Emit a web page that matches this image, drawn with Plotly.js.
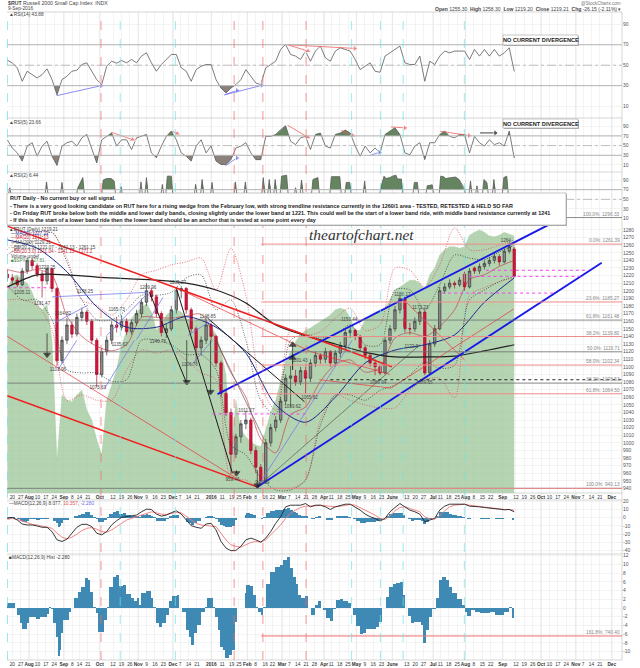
<!DOCTYPE html>
<html><head><meta charset="utf-8">
<script src="https://cdn.plot.ly/plotly-3.0.1.min.js"></script>
<style>html,body{margin:0;padding:0;background:#fff}</style></head>
<body><div id="chart" style="width:640px;height:668px"></div>
<script>
const tickDates=['2015-07-20','2015-07-27','2015-08-03','2015-08-10','2015-08-17','2015-08-24','2015-09-01','2015-09-08','2015-09-14','2015-09-21','2015-10-01','2015-10-12','2015-10-19','2015-10-26','2015-11-02','2015-11-09','2015-11-16','2015-11-23','2015-12-01','2015-12-07','2015-12-14','2015-12-21','2016-01-02','2016-01-11','2016-01-19','2016-01-25','2016-02-01','2016-02-08','2016-02-16','2016-02-22','2016-03-01','2016-03-07','2016-03-14','2016-03-21','2016-03-28','2016-04-05','2016-04-11','2016-04-18','2016-04-25','2016-05-02','2016-05-09','2016-05-16','2016-05-23','2016-06-01','2016-06-13','2016-06-20','2016-06-27','2016-07-05','2016-07-11','2016-07-18','2016-07-25','2016-08-01','2016-08-08','2016-08-15','2016-08-22','2016-09-01','2016-09-12','2016-09-19','2016-09-26','2016-10-03','2016-10-10','2016-10-17','2016-10-24','2016-11-01','2016-11-07','2016-11-14','2016-11-21','2016-12-01'];
const tickLabels=['20','27','Aug','10','17','24','Sep','8','14','21','Oct','12','19','26','Nov','9','16','23','Dec','7','14','21','2016','11','19','25','Feb','8','16','22','Mar','7','14','21','28','Apr','11','18','25','May','9','16','23','June','13','20','27','Jul','11','18','25','Aug','8','15','22','Sep','12','19','26','Oct','10','17','24','Nov','7','14','21','Dec'];

const rsi14=[54.9,52.3,47.4,34.3,44.1,40.8,37.5,40.8,46.4,35.9,21.1,35.9,39.2,44.1,45.1,50.7,52.3,44.1,35.9,31,49,53.9,52,54.6,52.3,55.6,52.3,58.9,62.1,52.3,44.1,50.7,55.6,60.5,60.5,47.4,44.1,34.3,45.7,49,50.7,50.7,35.9,27.7,22.8,27.7,31,35.9,45.7,39.2,32.6,31,47.4,50.7,53.9,65.4,70.3,60.5,58.9,55.6,63.8,53.9,63.8,68.7,57.2,53.9,63.8,67,65.4,63.8,55.6,45.7,49,52.3,44.1,43.1,58.9,62.1,65.4,68.7,52.3,50.7,50.7,58.9,34.3,53.9,50.7,58.9,63.8,62.1,63.8,63.8,63.8,55.6,65.4,58.9,65.4,58.9,65.4,58.9,62.1,67,43.9];
const rsi5=[62,45,35,18,49,56,28,49,59,28,9,49,56,59,49,66,73,42,14,62,69,76,49,62,62,42,66,69,73,35,25,49,69,80,62,35,28,18,49,62,35,49,18,11,11,21,45,49,56,35,21,21,69,69,73,83,91,59,52,66,69,42,73,76,49,45,73,76,82,76,49,28,49,35,45,35,73,80,87,73,35,31,49,56,21,56,56,73,80,69,66,73,73,35,69,56,49,62,52,56,49,80,24];
const rsi2PeakIdx=[0.5,7.9,11,14.2,15.2,19.3,20,20.9,21.5,22.9,26.9,28,31.2,32.2,33,37.9,39.2,41.2,45.9,47.9,51.5,52.7,53.9,55.2,56.2,58,59.2,61.5,62.5,65.2,65.8,66.4,66.9,68.2,68.9,71.9,75.2,75.8,76.2,77,77.5,78.2,78.5,79.3,81.9,82.5,84.5,85.5,87.2,87.8,88.2,89.2,90.2,90.9,91.9,93.2,94.5,95.9,96.5,97.9,99.9,100.5];
const rsi2PeakVal=[74,86,85,74,95,90,93,93,88,76,86,95,81,98,98,81,91,85,86,86,95,91,91,98,100,74,90,91,95,97,97,98,97,85,85,88,76,98,93,95,98,100,92,92,85,85,78,80,98,97,93,95,96,91,74,88,78,91,85,91,95,98];

const macdLine=[-0.8,0.4,-2.8,-7.6,-8.8,-8.8,-10,-11.6,-11.6,-16.8,-26.8,-28.8,-26,-18.8,-11.6,-8,-8,-10.8,-18.8,-20.8,-16.8,-8.8,-3.6,0.4,1.2,2,3.2,7.2,10.4,10,4.4,2,3.2,6,8.4,4.4,-2.8,-9.6,-11.6,-12.8,-7.6,-6.8,-14.8,-28.8,-36.8,-40,-39.6,-34.8,-26.8,-24.8,-26.8,-29.6,-24.8,-16.8,-6.8,1.2,13.2,15.2,15.2,15.2,17.2,13.2,15.2,15.2,13.2,10,13.2,15.2,16.4,16.4,13.2,9.2,4.4,1.2,-0.8,-4,-0.8,7.2,12.4,17.2,13.2,9.2,7.2,4.4,-4.8,-2.8,-0.8,9.2,14,16.4,16.4,17.2,16.4,14,14,13.2,12.4,12,11.2,10.4,9.6,10,7.2];
const macdSignal=[-2,-0.8,-2,-4,-6.8,-8,-8.8,-10,-10.8,-12.8,-18.8,-23.6,-25.6,-23.6,-20,-15.6,-12.8,-12,-14,-16.8,-17.6,-14.8,-10.8,-6.8,-2.8,-0.8,1.2,3.2,6,7.2,6,4.4,4,5.2,6.4,6,2,-2.8,-6.8,-8.8,-9.6,-9.6,-10.8,-18.8,-26.8,-32.8,-34.8,-35.6,-32.8,-30,-28.8,-29.6,-26.8,-20.8,-14.8,-8.8,-0.8,5.2,9.2,12.4,14,14,14.4,15.2,14.4,13.2,13.2,14,15.2,16,15.2,12.4,9.2,6,3.2,-0.8,-2,2.4,8.4,12.4,13.2,11.2,9.2,7.2,1.2,-1.6,-1.6,2.4,8.4,13.2,15.2,16,16.4,15.2,14.4,14,13.2,12.4,12,11.2,10,10,9.2];
const histSession=[0,3.6,4.6,5.6,7.6,8.6,10.6,11.6,13.2,15.6,17.6,19.6,22.6,24,25.2,26.6,27.6,29.2,30.6,31.6,32.6,33.6,35.6,37,38.6,40,42.6,44.6,46.6,48.6,50,51.6,53.6,55,56.6,58.6,60,61.6,63.6,65.6,67.2,69.6,71.6,74.6,76.6,78,79.6,81,83.6,85,86.6,88,89.6,91.6,93.6,95.6,97.6,99.6,102.6,103.6,105.2,107.6,109.6,111,112.6,114.6,117,119.2,120.6,122.6,124,125.6,127.2,128.6,130,131.6,133.6,135.6,137.2,138.6,141.6,143.2,144,146.6,148.6,150,151.6,153,154.6,156,158.6,161.6,164.6,166.6,169,170.6,172.6,174,175.6,177,179.6,181.6,183.6,185.6,187.6,189.2,190.6,192.6,194.6,196.6,198.6,200.6,202.6,205.6,207.6,208.6,210.6,212.6,214.6,216.6,219.6,222.6,224.6,226.2,228.6,230.6,232.6,234.6,237,238.6,240.2,241.6,243.6,245.6,247.6,249.6,251.2,252.6,254.6,256.6,258.6,260.6,262.6,264.6,266.6,268.6,271.6,274.6,276.2,277.6,279.6,282.6,285.6,288.6,291.6,294.6,297.6,299.6,302.6,304.6];
const histValue=[1.1,1.2,0,-1.6,-3.5,-4.7,-4.7,-3.5,-2,-2,-2.6,-2,-2,-1.4,0.2,-0.3,-3.5,-6.6,-10.9,-9.6,-5.8,-2.7,-2.7,-0.8,-0.1,2.2,3.7,4.9,6.8,6.4,3.7,0.3,-1.2,-5.4,-5.4,-2.7,0.3,4.9,7.2,7.6,5.1,5.3,3.2,2.4,1.5,2.4,0.7,3.4,4,3.9,2.2,0.3,-3.5,-4.4,-3.5,-1.6,1.5,2.8,3,0,-0.8,-5,-6.6,-8.5,-5.8,-3.9,-0.8,0.3,2.2,2.2,0.3,-2,-5,-8.9,-9.6,-11.5,-10.8,-9.6,-3.1,-0.1,-0.1,3.4,5.3,5.1,3,0.2,-0.8,-1.6,0.3,5.6,8.2,9.3,9.8,11.1,11.7,9.1,7.2,5.6,3,2.2,2.7,0,-1.6,0.7,1.5,-0.1,-0.5,-2.3,-2.9,-0.3,1.8,2,1.5,1.1,-0.1,-1.6,-4.2,-5.9,-5.8,-4.7,-4.7,-4.4,-3.1,-0.1,2.6,4.9,5.6,5.8,6,3,-0.1,-1.8,-3.5,-3.1,-3.1,-3.9,-8.1,-5,-2,-0.3,2.2,6.4,7,6.4,4.9,3.4,2,0.7,-0.8,-1.8,-0.5,-0.8,-1.1,-1.2,-0.8,-1.6,-1.6,-0.8,0.2,-2.3];

const priceOpen=[1222,1217,1214,1208,1226,1240,1233,1222,1213,1229,1203,1108,1135,1155,1143,1165,1172,1160,1135,1090,1120,1135,1155,1152,1160,1146,1158,1170,1185,1200,1192,1170,1145,1150,1175,1200,1203,1175,1150,1125,1135,1155,1140,1105,1065,1040,985,1008,1025,1030,990,968,950,1000,1020,1030,1055,1085,1088,1080,1095,1085,1105,1115,1110,1120,1105,1118,1128,1145,1148,1140,1125,1115,1105,1100,1092,1135,1150,1175,1190,1150,1150,1160,1172,1092,1130,1150,1200,1205,1210,1208,1222,1205,1230,1226,1232,1236,1240,1245,1238,1252,1255];
const priceHigh=[1228,1222,1218,1230,1244,1243,1236,1226,1231,1230,1205,1140,1164,1160,1170,1178,1175,1163,1138,1125,1140,1160,1165,1168,1164,1162,1175,1190,1210,1204,1195,1173,1156,1180,1205,1206,1205,1178,1153,1140,1166,1158,1142,1108,1070,1045,1012,1030,1042,1033,995,972,1005,1025,1035,1060,1090,1101,1096,1100,1100,1110,1120,1118,1125,1122,1122,1133,1150,1152,1150,1142,1128,1118,1110,1104,1140,1155,1180,1194,1192,1158,1165,1177,1175,1135,1155,1205,1210,1215,1213,1218,1225,1230,1232,1236,1240,1244,1250,1248,1256,1264,1258];
const priceLow=[1212,1208,1205,1206,1222,1228,1218,1191,1208,1198,1101,1104,1130,1138,1140,1160,1155,1130,1073,1086,1115,1130,1145,1148,1142,1142,1154,1165,1180,1186,1165,1140,1138,1147,1170,1190,1170,1145,1106,1115,1130,1135,1100,1060,1035,959,980,1000,1018,985,960,943,947,995,1015,1026,1050,1047,1075,1076,1065,1080,1100,1104,1105,1100,1100,1112,1122,1138,1135,1120,1110,1100,1089,1089,1090,1130,1146,1170,1145,1142,1146,1155,1089,1090,1126,1148,1196,1202,1203,1205,1200,1203,1222,1222,1228,1232,1236,1233,1236,1249,1219];
const priceClose=[1217,1214,1208,1226,1240,1233,1222,1213,1229,1203,1108,1135,1155,1143,1165,1172,1160,1135,1090,1120,1135,1155,1152,1160,1146,1158,1170,1185,1200,1192,1170,1145,1150,1175,1200,1203,1175,1150,1125,1135,1155,1140,1105,1065,1040,985,1008,1025,1030,990,968,950,1000,1020,1030,1055,1085,1088,1080,1095,1085,1105,1115,1110,1120,1105,1118,1128,1145,1148,1140,1125,1115,1105,1100,1092,1135,1150,1175,1190,1150,1150,1160,1172,1092,1130,1150,1200,1205,1210,1208,1214,1205,1226,1226,1232,1236,1240,1245,1238,1252,1258,1219];
const overlayArea=[1201,1218,1221,1214,1210,1198,1181,1175,1181,1135,977,1063,1056,1054,1063,1069,1043,1030,1004,984,1056,1076,1096,1129,1148,1164,1172,1177,1183,1172,1148,1155,1168,1172,1175,1172,1164,1159,1162,1164,1162,1154,1142,1122,1089,984,1056,1017,1008,1001,997,995,1017,1040,1056,1083,1106,1119,1133,1142,1148,1151,1155,1159,1164,1168,1175,1177,1175,1164,1148,1148,1162,1168,1172,1175,1177,1188,1201,1205,1210,1214,1214,1210,1201,1221,1230,1247,1254,1258,1258,1256,1258,1273,1277,1280,1277,1272,1271,1273,1277,1275,1272];
const ma200=[1205,1221,1221,1218,1216,1214,1210,1201,1184,1155,1141,1130,1119,1113,1113,1114,1121,1129];
const ma50=[1267,1256,1225,1179,1152,1152,1166,1152,1118,1050,1027,1060,1105,1122,1129,1142,1185,1217];
const bbUpper3=[1254,1273,1277,1276,1243,1188,1181,1168,1188,1221,1227,1234,1238,1243,1201,1256,1194,1076,1043,1148,1142,1146,1164,1177,1148,1155,1230,1227,1205,1234,1283,1254,1254,1260,1267];
const bbLower3=[1188,1188,1181,1148,1056,1063,1056,1056,1096,1122,1118,1122,1109,1092,1083,954,951,940,940,940,951,1030,1063,1056,1050,1046,1046,1069,1083,1085,1059,1194,1204,1212,1217];
const bbUpper2=[1247,1260,1267,1277,1238,1188,1162,1162,1175,1194,1194,1198,1217,1221,1175,1188,1135,1056,1037,1135,1142,1138,1142,1155,1129,1129,1201,1201,1175,1208,1247,1243,1241,1251,1260];
const bbLower2=[1208,1188,1188,1162,1096,1092,1092,1081,1083,1135,1135,1129,1116,1116,1096,997,984,954,938,938,951,1023,1063,1063,1056,1069,1076,1089,1106,1098,1102,1188,1201,1212,1219];
const bbMiddle=[1228,1224,1228,1220,1167,1140,1127,1121,1129,1165,1165,1164,1167,1169,1135,1092,1060,1005,987,1037,1047,1081,1103,1109,1093,1099,1138,1145,1140,1153,1175,1215,1221,1232,1240];

const priceLabelText=['1229.25','1205.11','1191.47','1164.82','1178.25','1165.73','1209.96','1205.27','1148.85','1103.96','1135.67','1073.63','1146.76','1106.76','1011.27','959.46','943.09','1101.43','1059.62','1065.62','1122.9','1089.94','1089.65','1150.44','1188.17','1173.23','1264'];
const priceLabelIdx=[8,3,7,11.2,15.6,22,28.3,34.3,40.3,10.2,22.6,18.2,30.3,36.7,48.1,45.3,51.3,58.8,57.4,60.8,81.3,74.6,83.9,68.8,79.5,83.1,100.3];
const priceLabelAt=[1230,1197,1183,1169,1198,1175,1204,1210,1166,1096,1129,1072,1133,1102,1042,951,948,1108,1047,1059,1126,1079,1079,1162,1194,1177,1266];

const fibRedLevels=[1261.39,1185.27,1139.80,1102.34,1064.50,940.13];
const fibGreyLevels=[1296.33,1161.48,1119.71,1078.53,940.13];
const fibLabelLevels=[1296.33,1261.39,1185.27,1161.48,1139.80,1119.71,1102.34,1078.53,1064.50,940.13];
const fibLabelText=['100.0%: 1296.33','0.0%: 1261.39','23.6%: 1185.27','61.8%: 1161.48','38.2%: 1139.80','50.0%: 1119.71','58.0%: 1102.34','38.2%: 1078.53','61.8%: 1064.50','100.0%: 940.13'];
const redVerticals=['2015-10-02','2016-01-21','2016-02-14','2016-03-21'];
const cyanVerticals=['2015-07-16','2015-10-18','2015-12-03','2016-04-28','2016-05-22','2016-06-10','2016-07-31'];

// trendlines drawn on the price panel: sample index and price at each vertex
const blueThick=[[[42.3,1064],[109,1287]],[[50.3,942],[119.6,1237]]];
const redThick=[[[0,1285],[77.4,1100]],[[0,1062],[50.3,942]]];
const redMedium=[[[0,1140],[45.7,955]],[[62.8,1083],[77.2,1072],[101.9,1176]],[[34,1204],[61,1120],[77,1090]],[[80.3,1185],[92,1109]]];
const blackLines=[[[34,1204],[45.3,960]],[[28.6,1198],[36,1080]],[[40.3,1164],[59.8,1054]]];
const blackThin=[[[50.3,942],[83,1129]],[[42,1135],[51.7,1004]]];
const blueThin=[[[9,1192],[28.3,1198]],[[9.6,1158],[16.2,1181]],[[19.6,1072],[25.6,1135]],[[20,1141],[28.3,1197]],[[26,1136],[31.3,1191]],[[36.3,1141],[41.3,1162]],[[10.2,1096],[14,1135]],[[37,1102],[41.3,1135]],[[50.3,942],[69.4,1135]]];
const magentaLevels=[[0,8.6,1204],[41.3,60.2,1038],[96.3,117,1227],[93,115.6,1219],[87.5,110.3,1197]];
const arrowsDown=[[8,1144,1116],[36.1,1135,1080],[40.9,1135,1067],[46.1,964,960],[50.3,964,944]];
const arrowsUp=[[57.4,1096,1129],[57.4,1096,1112]];
const divergence14=[['#6f6ff0',[9.9,20.2],[18.9,30],'triangle-right'],['#6f6ff0',[43.7,21],[46.2,25.4],'triangle-right'],['#6f6ff0',[43.7,21],[51.2,30.3],'triangle-right'],['#f06060',[56.4,70],[60.5,63.8],'triangle-up'],['#f06060',[56.4,70],[69.9,66.4],'triangle-right']];
const divergence5=[['#f06060',[20.9,77.6],[25.2,62.4],'triangle-up'],['#f06060',[33.2,79.7],[34.2,74.8],'triangle-up'],['#6f6ff0',[43.9,8.6],[46.2,24.5],'triangle-right'],['#f06060',[56.4,92],[60.5,67],'triangle-up'],['#f06060',[67.2,81.7],[69.5,70.7],'triangle-up'],['#6f6ff0',[72.9,29.3],[74.9,36.2],'triangle-right'],['#f06060',[77.2,88.6],[80,86.6],'triangle-right'],['#f06060',[87.1,79.7],[92.9,70.7],'triangle-right'],['#111111',[95.1,76.2],[98.2,76.2],'triangle-right']];

const DAY=864e5,STEP=4.145;
const kMs=k=>Date.UTC(2015,6,15,20)+k*STEP*DAY;
const kDate=k=>new Date(kMs(k)).toISOString().slice(0,19);
const idx=a=>a.map((_,i)=>i);
const dates=(a,step)=>a.map((_,i)=>kDate(i*step));
const W=640,H=668,PL=7,PR=622;
const panels=[[12,118],[118,172],[172,222],[214,493],[500,554],[554,660]];
const dom=p=>[1-p[1]/H,1-p[0]/H];
const xRange=['2015-07-15 14:00','2016-12-09 12:00'];
const traces=[];
const add=(t,n)=>{t.xaxis='x'+(n===1?'':n);t.yaxis='y'+(n===1?'':n);t.showlegend=false;t.hoverinfo='skip';traces.push(t);};

function shade(xk,vals,lvl,sign,color,n){
  const xs=[],ys=[];
  vals.forEach((v,i)=>{
    if(i>0){const p=vals[i-1];if((p-lvl)*(v-lvl)<0){xs.push(xk[i-1]+(xk[i]-xk[i-1])*(lvl-p)/(v-p));ys.push(lvl);}}
    xs.push(xk[i]);ys.push(sign*(v-lvl)>0?v:lvl);
  });
  const d=xs.map(kDate);
  add({type:'scatter',mode:'lines',x:d,y:d.map(()=>lvl),line:{width:0,color:color}},n);
  add({type:'scatter',mode:'lines',x:d,y:ys,fill:'tonexty',fillcolor:color,line:{width:0,color:color}},n);
}
function rsiLine(xk,v,n){add({type:'scatter',mode:'lines',x:xk.map(kDate),y:v,line:{color:'#5a5a5a',width:0.8}},n);}
function diverge(list,n){list.forEach(d=>{
  add({type:'scatter',mode:'lines+markers',x:[kDate(d[1][0]),kDate(d[2][0])],y:[d[1][1],d[2][1]],line:{color:d[0],width:0.8},marker:{symbol:['circle',d[3]],size:[0,6],color:d[0]}},n);
});}

shade(idx(rsi14),rsi14,30,-1,'#8c807a',1);shade(idx(rsi14),rsi14,70,1,'#64855f',1);rsiLine(idx(rsi14),rsi14,1);diverge(divergence14,1);
shade(idx(rsi5),rsi5,30,-1,'#8c807a',2);shade(idx(rsi5),rsi5,70,1,'#64855f',2);rsiLine(idx(rsi5),rsi5,2);diverge(divergence5,2);
const r2x=[],r2y=[];
rsi2PeakIdx.forEach((k,i)=>{const prev=rsi2PeakIdx[i-1];
  if(i===0||k-prev>1){if(i>0){r2x.push(prev+0.35);r2y.push(55);}r2x.push(k-0.35);r2y.push(55);}
  r2x.push(k);r2y.push(rsi2PeakVal[i]);});
r2x.push(rsi2PeakIdx[rsi2PeakIdx.length-1]+0.35);r2y.push(55);r2x.push(102);r2y.push(6.44);
shade(r2x,r2y,70,1,'#64855f',3);rsiLine(r2x,r2y,3);

add({type:'scatter',mode:'lines',x:dates(overlayArea,1),y:overlayArea,fill:'tozeroy',fillcolor:'rgba(150,195,145,0.7)',line:{width:0.4,color:'rgba(150,195,145,0.7)'}},7);
add({type:'candlestick',x:dates(priceOpen,1),open:priceOpen,high:priceHigh,low:priceLow,close:priceClose,whiskerwidth:0,
  increasing:{line:{color:'#3a3a3a',width:0.7},fillcolor:'#8a8a8a'},decreasing:{line:{color:'#a8122e',width:0.7},fillcolor:'#d4143c'}},4);
const smooth=(a,step,color,width,dash)=>add({type:'scatter',mode:'lines',x:dates(a,step),y:a,line:{color,width,dash:dash||'solid',shape:'spline',smoothing:0.8}},4);
smooth(bbUpper3,3,'#e23b4c',0.7,'1px,1.5px');smooth(bbLower3,3,'#e23b4c',0.7,'1px,1.5px');
smooth(bbUpper2,3,'#222222',0.7,'1px,1.5px');smooth(bbLower2,3,'#222222',0.7,'1px,1.5px');
smooth(bbMiddle,3,'#c22a3a',0.6);
smooth(ma50,6,'#1a2a8c',1);smooth(ma200,6,'#222222',1.2);
const poly=(v,color,width)=>add({type:'scatter',mode:'lines',x:v.map(p=>kDate(p[0])),y:v.map(p=>p[1]),line:{color,width}},4);
blueThin.forEach(v=>poly(v,'#7a7af0',0.8));
blackThin.forEach(v=>poly(v,'#444444',0.6));
redMedium.forEach(v=>poly(v,'#e8303a',0.7));
blackLines.forEach(v=>poly(v,'#1a1a1a',1));
redThick.forEach(v=>poly(v,'#f02020',1.5));
blueThick.forEach(v=>poly(v,'#1818e8',1.8));
magentaLevels.forEach(m=>add({type:'scatter',mode:'lines',x:[kDate(m[0]),kDate(m[1])],y:[m[2],m[2]],line:{color:'#f040f0',width:1,dash:'dot'}},4));
arrowsDown.forEach(a=>add({type:'scatter',mode:'lines+markers',x:[kDate(a[0]),kDate(a[0])],y:[a[1],a[2]],line:{color:'#222',width:0.7},marker:{symbol:['circle','triangle-down'],size:[0,6],color:'#111'}},4));
arrowsUp.forEach(a=>add({type:'scatter',mode:'lines+markers',x:[kDate(a[0]),kDate(a[0])],y:[a[1],a[2]],line:{color:'#222',width:0.7},marker:{symbol:['circle','triangle-up'],size:[0,6],color:'#111'}},4));
add({type:'scatter',mode:'text',x:priceLabelIdx.map(kDate),y:priceLabelAt,text:priceLabelText,textfont:{size:4.6,color:'#444',family:'Liberation Sans'},textposition:'middle center'},4);

// histogram bars span from one read position to the next
const histK=histSession.map(s=>s/3);
const histEdges=histK.map((k,i)=>i+1<histK.length?histK[i+1]:k+0.34);
const histX=histK.map((k,i)=>kDate((k+histEdges[i])/2));
const histW=histK.map((k,i)=>(histEdges[i]-k)*STEP*DAY);
add({type:'bar',x:histX,y:histValue,width:histW,marker:{color:'#3f8ab5',line:{width:0}}},5);
add({type:'scatter',mode:'lines',x:dates(macdSignal,1),y:macdSignal,line:{color:'#f07878',width:0.9}},5);
add({type:'scatter',mode:'lines',x:dates(macdLine,1),y:macdLine,line:{color:'#222',width:0.9}},5);
add({type:'bar',x:histX,y:histValue,width:histW,marker:{color:'#3f8ab5',line:{width:0}}},6);

const font={family:'Liberation Sans, Arial, sans-serif',size:5,color:'#555'};
const grid='#ececec';
const showX=[false,false,false,true,false,true];
const layout={width:W,height:H,margin:{l:0,r:0,t:0,b:0,autoexpand:false},paper_bgcolor:'#fff',plot_bgcolor:'#fff',showlegend:false,bargap:0,font,hovermode:false};
const isMonth=l=>/^[A-Z]/.test(l)||l==='2016';
panels.forEach((p,i)=>{
  const n=i+1,s=n===1?'':n;
  layout['xaxis'+s]={domain:[PL/W,PR/W],range:xRange,type:'date',anchor:'y'+s,tickmode:'array',tickvals:tickDates,
    ticktext:tickLabels.map(l=>isMonth(l)?'<b>'+l+'</b>':l),showticklabels:showX[i],ticks:'',tickangle:0,tickfont:{size:4.8,color:'#333',family:font.family},
    showgrid:true,gridcolor:grid,gridwidth:0.6,zeroline:false,showline:false};
});
const yBase=(i,range,vals)=>({domain:dom(panels[i]),range,side:'right',anchor:'x'+(i===0?'':i+1),tickmode:'array',tickvals:vals,ticktext:vals.map(String),ticks:'',tickfont:{size:5,color:'#555',family:font.family},showgrid:true,gridcolor:grid,gridwidth:0.6,zeroline:false,showline:false});
const rsiTicks=[90,70,50,30,10];
layout.yaxis=yBase(0,[-1.6,102],rsiTicks);
layout.yaxis2=yBase(1,[-4.5,107],rsiTicks);
layout.yaxis3=yBase(2,[3,106.6],rsiTicks);
const priceTicks=[];for(let v=940;v<=1280;v+=10)priceTicks.push(v);
layout.yaxis7=Object.assign(yBase(3,[934,1301],priceTicks),{anchor:'x4'});
layout.yaxis4=Object.assign(yBase(3,[934,1301],priceTicks),{overlaying:'y7',showticklabels:false,showgrid:false});
layout.xaxis7={domain:[PL/W,PR/W],range:xRange,type:'date',visible:false};
traces.forEach(t=>{if(t.yaxis==='y7')t.xaxis='x4';});
layout.yaxis5=yBase(4,[-44,21.5],[20,10,0,-10,-20,-30,-40]);
layout.yaxis6=yBase(5,[-11.9,12.36],[12,10,8,6,4,2,0,-2,-4,-6,-8,-10]);
layout.xaxis4.rangeslider={visible:false};

const rangeEnd=xRange[1];
const shapes=[];
const py=y=>1-y/H;
const hline=(yref,v,x0,color,width,dash,layer)=>shapes.push({type:'line',xref:'x4',yref,x0,x1:rangeEnd,y0:v,y1:v,line:{color,width,dash:dash||'solid'},layer:layer||'above'});
tickDates.forEach((d,i)=>{if(isMonth(tickLabels[i])){
  shapes.push({type:'line',xref:'x4',yref:'paper',x0:d,x1:d,y0:py(660),y1:py(12),line:{color:'#d6d6d6',width:0.7},layer:'below'});}});
[['y',70],['y',30],['y2',70],['y2',30],['y3',70]].forEach(g=>shapes.push({type:'line',xref:'paper',yref:g[0],x0:PL/W,x1:PR/W,y0:g[1],y1:g[1],line:{color:'#b4b4b4',width:1},layer:'above'}));
[['y',50],['y2',50],['y3',50]].forEach(g=>shapes.push({type:'line',xref:'paper',yref:g[0],x0:PL/W,x1:PR/W,y0:g[1],y1:g[1],line:{color:'#999',width:0.6,dash:'dashdot'},layer:'above'}));
[12,118,172,493,500,554,660].forEach(y=>shapes.push({type:'line',xref:'paper',yref:'paper',x0:PL/W,x1:PR/W,y0:py(y),y1:py(y),line:{color:'#c4c4c4',width:0.7},layer:'above'}));
shapes.push({type:'line',xref:'paper',yref:'paper',x0:PR/W,x1:PR/W,y0:py(660),y1:py(12),line:{color:'#c4c4c4',width:0.7},layer:'above'});
fibGreyLevels.forEach(v=>hline('y4',v,xRange[0],'#6e6e6e',0.8));
fibRedLevels.forEach(v=>hline('y4',v,kDate(51.1),'#f08a8a',1));
shapes.push({type:'line',xref:'x4',yref:'y6',x0:kDate(51.1),x1:rangeEnd,y0:-6.4,y1:-6.4,line:{color:'#f07070',width:1},layer:'above'});
shapes.push({type:'line',xref:'x4',yref:'y4',x0:kDate(65),x1:rangeEnd,y0:1083,y1:1083,line:{color:'#111',width:0.9,dash:'dot'},layer:'above'});
redVerticals.forEach(d=>shapes.push({type:'line',xref:'x4',yref:'paper',x0:d,x1:d,y0:py(660),y1:py(12),line:{color:'#f06a6a',width:0.7,dash:'dash'},layer:'above'}));
cyanVerticals.forEach(d=>shapes.push({type:'line',xref:'x4',yref:'paper',x0:d,x1:d,y0:py(660),y1:py(12),line:{color:'#6ce4e4',width:0.7,dash:'dash'},layer:'above'}));
const box=(x0,y0,x1,y1)=>{
  shapes.push({type:'rect',xref:'paper',yref:'paper',x0:(x0+1)/W,x1:(x1+1)/W,y0:py(y1+1),y1:py(y0+1),line:{width:0},fillcolor:'#b0b0b0',layer:'above'});
  shapes.push({type:'rect',xref:'paper',yref:'paper',x0:x0/W,x1:x1/W,y0:py(y1),y1:py(y0),line:{color:'#a0a0a0',width:0.6},fillcolor:'#fff',layer:'above'});};
box(7,193,566,225);box(503,35,578,45);box(503,119,578,128);
layout.shapes=shapes;

const anns=[];
const note=(text,x,y,o={})=>anns.push({xref:'paper',yref:'paper',x:x/W,y:py(y),text,showarrow:false,xanchor:o.anchor||'left',yanchor:'middle',borderpad:0,
  font:{family:o.family||'Liberation Sans, Arial, sans-serif',size:o.size||5,color:o.color||'#444'},align:'left'});
note('<b>$RUT</b> Russell 2000 Small Cap Index  INDX',7,3.5,{size:5.2});
note('9-Sep-2016',7,9,{size:4.8});
note('@StockCharts.com',622,3.5,{anchor:'right',size:4.6,color:'#777'});
note('<b>Open</b> 1255.30  <b>High</b> 1258.30  <b>Low</b> 1219.20  <b>Close</b> 1219.21  <b>Chg</b> -26.15 (-2.11%) ▾',622,9,{anchor:'right',size:5});
note('▲RSI(14) 43.88',8,14.5,{size:4.8});
note('▲RSI(5) 23.66',8,122,{size:4.8});
note('▲RSI(2) 6.44',8,175,{size:4.8});
note('<b>NO CURRENT DIVERGENCE</b>',540.5,40,{anchor:'center',size:5.6,color:'#222'});
note('<b>NO CURRENT DIVERGENCE</b>',540.5,123.5,{anchor:'center',size:5.6,color:'#222'});
const tb={size:5.45,color:'#222'};
note('<b>RUT Daily - No current buy or sell signal.</b>',9,198,tb);
note('<b>- There is a very good looking candidate on RUT here for a rising wedge from the February low, with strong trendline resistance currently in the 1260/1 area - TESTED, RETESTED &amp; HELD SO FAR</b>',9,205.5,tb);
note('<b>- On Friday RUT broke below both the middle and lower daily bands, closing slightly under the lower band at 1221. This could well be the start of a lower band ride, with middle band resistance currently at 1241</b>',9,213,tb);
note('<b>- If this is the start of a lower band ride then the lower band should be an anchor that is tested at some point every day</b>',9,220,tb);
note('<i>theartofchart.net</i>',308,234,{family:'Liberation Serif, serif',size:15.5,color:'#333'});
note('▲$RUT (Daily) 1219.21',8,229,{size:4.6});
note('<span style="color:#1a2a8c">—MA(50) 1227.22</span>',10,233.5,{size:4.6});
note('<span style="color:#c22a3a">—MA(20) 1241.13</span>',10,238,{size:4.6});
note('—MA(200) 1129.31',10,242.5,{size:4.6});
note('--BB(20,2.0) 1221.07 - 1241.13 - 1261.15',10,247,{size:4.6});
note('<span style="color:#c22a3a">--BB(20,3.0) 1211.04 - 1241.13 - 1271.2</span>',10,251.5,{size:4.6});
note('Volume undef',10,256,{size:4.6});
note('<span style="color:#4f8a4a">■$SPX 2,127.81</span>',10,260,{size:4.6});
note('—MACD(12,26,9) 8.077, <span style="color:#e05050">10.357</span>, <span style="color:#6f6ff0">-2.280</span>',8,503.5,{size:4.8});
note('■MACD(12,26,9) Hist -2.280',8,557,{size:4.8});
fibLabelLevels.forEach((v,i)=>anns.push({xref:'paper',yref:'y4',x:621/W,y:v,text:fibLabelText[i],showarrow:false,xanchor:'right',yanchor:'bottom',borderpad:0,font:{size:4.8,color:'#888',family:font.family}}));
anns.push({xref:'paper',yref:'y6',x:621/W,y:-6.4,text:'161.8%: 740.40',showarrow:false,xanchor:'right',yanchor:'bottom',borderpad:0,font:{size:4.8,color:'#888',family:font.family}});
layout.annotations=anns;

Plotly.newPlot('chart',traces,layout,{staticPlot:true,displayModeBar:false});
</script></body></html>
